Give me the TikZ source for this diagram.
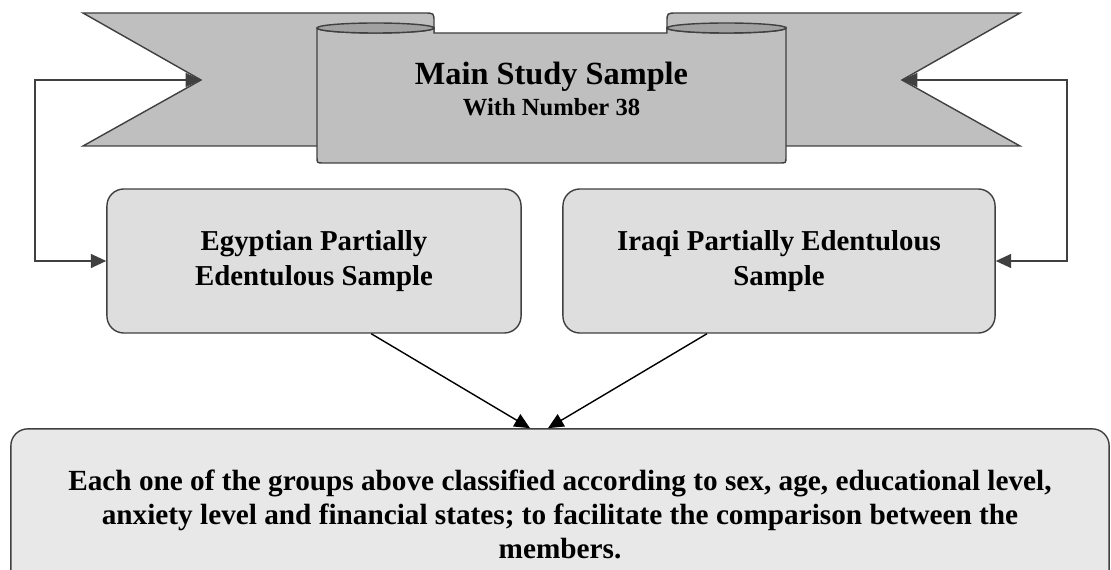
\documentclass[tikz,border=0pt]{standalone}
\usepackage{fontspec}
\setmainfont{Liberation Serif}
\usetikzlibrary{arrows.meta}
\begin{document}
\begin{tikzpicture}[x=0.025cm, y=-0.025cm, font=\bfseries, >={Triangle[length=11pt, width=10pt]}]
\tikzstyle{edge}=[draw=black!75, line width=1pt]
\tikzstyle{ribbon}=[edge, fill=black!25]
\tikzstyle{curl}=[edge, fill=black!37]
\tikzstyle{box}=[edge, fill=black!13, rounded corners=12pt, align=center, font=\fontsize{20.5}{25}\selectfont\bfseries]
\tikzstyle{side}=[black!75, line width=1pt]
\tikzstyle{link}=[black, line width=1pt]
\useasboundingbox (0,0) rectangle (1111,570);
\clip (0,0) rectangle (1111,570);

% tails of the ribbon
\draw[ribbon] (83,13) -- (424,13) .. controls (434,13) .. (434,22) -- (434,146) -- (83,146) -- (201,80) -- cycle;
\draw[ribbon] (1020,13) -- (677,13) .. controls (667,13) .. (667,22) -- (667,146) -- (1020,146) -- (902,80) -- cycle;
% front of the ribbon
\draw[ribbon] (317,28) -- (317,157) .. controls (317,163) .. (323,163) -- (780,163) .. controls (786,163) .. (786,157) -- (786,28)
  arc[start angle=0, end angle=180, x radius=59.5, y radius=5] -- (667,33) -- (434,33) -- (434,28)
  arc[start angle=0, end angle=180, x radius=58.5, y radius=5] -- cycle;
\draw[curl] (375.5,28) ellipse [x radius=58.5, y radius=5];
\draw[curl] (726.5,28) ellipse [x radius=59.5, y radius=5];
\node[font=\fontsize{23}{22}\selectfont\bfseries, align=center] (main) at (551.5,89) {Main Study Sample\\{\fontsize{17.5}{22}\selectfont With Number 38}};
\coordinate (notchL) at (201,80); \coordinate (turnL) at (35,80);
\coordinate (notchR) at (902,80); \coordinate (turnR) at (1067,80);

\node[box, minimum width=10.35cm, minimum height=3.6cm] (egy) at (314,261) {Egyptian Partially\\Edentulous Sample};
\node[box, minimum width=10.8cm, minimum height=3.6cm] (iraq) at (779,261) {Iraqi Partially Edentulous\\Sample};
\node[box, fill=black!9, minimum width=27.45cm, minimum height=4.27cm, font=\fontsize{20.8}{24.2}\selectfont\bfseries] (groups) at (560,514.3) {Each one of the groups above classified according to sex, age, educational level,\\anxiety level and financial states; to facilitate the comparison between the\\members.};

\draw[side, <->] (notchL) -- (turnL) |- (egy.west);
\draw[side, <->] (notchR) -- (turnR) |- (iraq.east);
\draw[link, ->] ([xshift=1.43cm]egy.south) -- ([xshift=-0.75cm]groups.north);
\draw[link, ->] ([xshift=-1.8cm]iraq.south) -- ([xshift=-0.3cm]groups.north);
\end{tikzpicture}
\end{document}
